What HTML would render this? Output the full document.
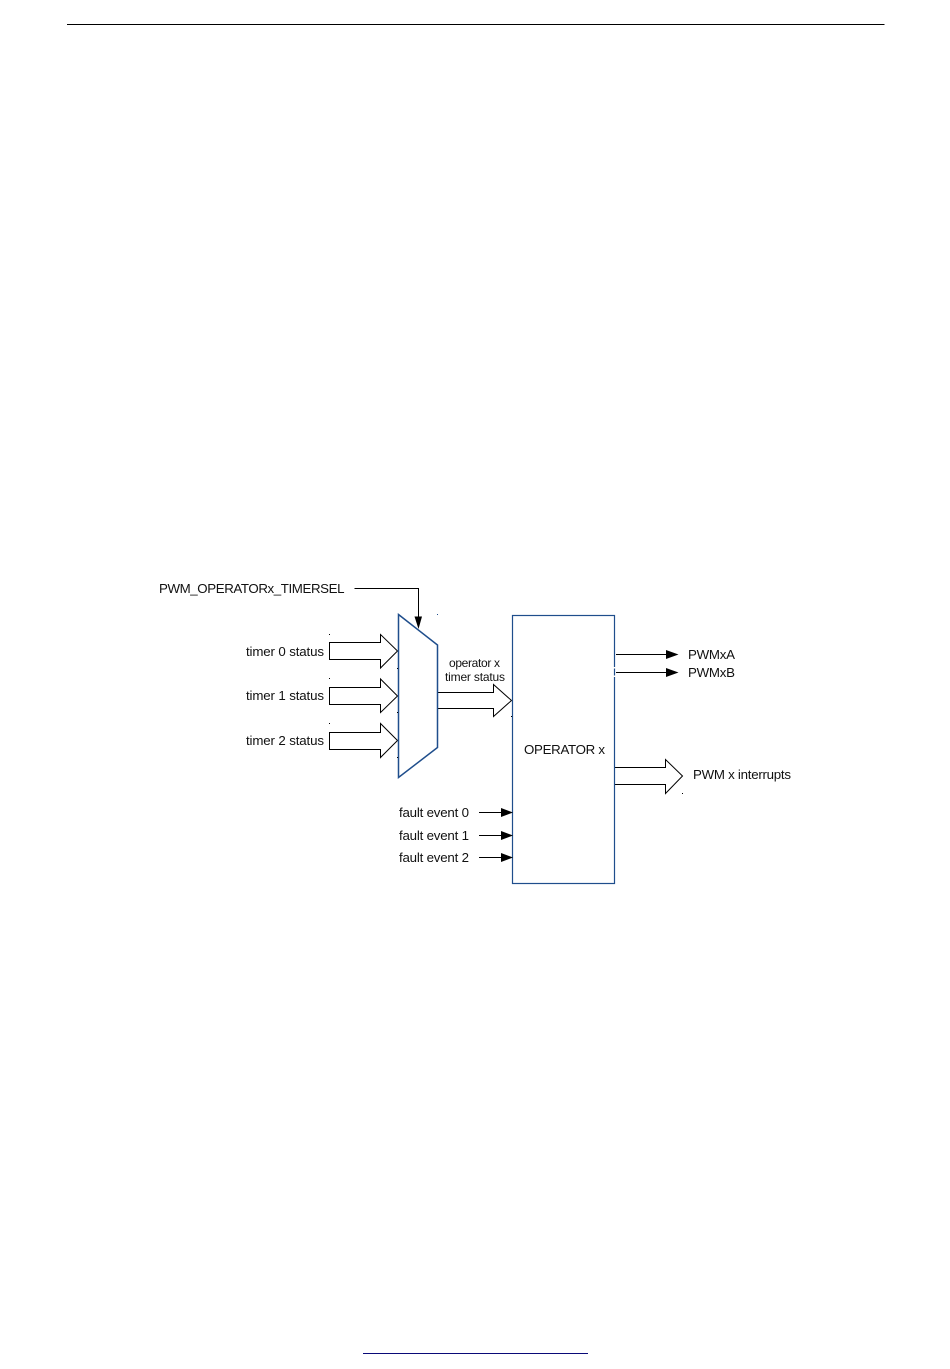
<!DOCTYPE html>
<html>
<head>
<meta charset="utf-8">
<style>
html,body{margin:0;padding:0;background:#fff;}
svg{display:block;}
text{font-family:"Liberation Sans",sans-serif;font-size:13.3px;fill:#111;}
</style>
</head>
<body>
<svg width="950" height="1369" viewBox="0 0 950 1369" xmlns="http://www.w3.org/2000/svg">
<line x1="67" y1="24.5" x2="884.5" y2="24.5" stroke="#000" stroke-width="1"/>
<line x1="363" y1="1353.5" x2="588" y2="1353.5" stroke="#0a0a78" stroke-width="1"/>

<g fill="#fff" stroke="#000" stroke-width="1">
<polygon points="329.5,642.5 380.5,642.5 380.5,634.5 397.5,651 380.5,668 380.5,659.5 329.5,659.5"/>
<polygon points="329.5,687.5 380.5,687.5 380.5,679 397.5,696 380.5,712.5 380.5,704.5 329.5,704.5"/>
<polygon points="329.5,732.5 380.5,732.5 380.5,723.5 397.5,740.5 380.5,757.5 380.5,749.5 329.5,749.5"/>
<polygon points="437.5,692.5 493.5,692.5 493.5,684.5 511.5,700.5 493.5,716.5 493.5,708.5 437.5,708.5"/>
<polygon points="614.5,767.5 665.5,767.5 665.5,759.5 682.5,776 665.5,793.5 665.5,784.5 614.5,784.5"/>
</g>

<polygon points="398.5,614.5 437.5,645 437.5,747.5 398.5,777.5" fill="#fff" stroke="#1f4e8c" stroke-width="1.5"/>
<rect x="512.5" y="615.5" width="102" height="268" fill="#fff" stroke="#1f4e8c" stroke-width="1.2"/>
<rect x="613" y="667" width="3" height="1.5" fill="#fff"/>
<rect x="613" y="675.5" width="3" height="1.5" fill="#fff"/>

<g fill="none" stroke="#000" stroke-width="1">
<polyline points="354.5,588.5 418.5,588.5 418.5,618"/>
<line x1="616" y1="654.5" x2="667" y2="654.5"/>
<line x1="616" y1="672.5" x2="667" y2="672.5"/>
<line x1="479" y1="812.5" x2="502" y2="812.5"/>
<line x1="479" y1="835.5" x2="502" y2="835.5"/>
<line x1="479" y1="857.5" x2="502" y2="857.5"/>
</g>
<g fill="#000">
<polygon points="414.5,616.5 422,616.5 418.5,629"/>
<polygon points="666,650 666,659 678.5,654.5"/>
<polygon points="666,668 666,677 678.5,672.5"/>
<polygon points="501,808 501,817 513,812.5"/>
<polygon points="501,831 501,840 513,835.5"/>
<polygon points="501,853 501,862 513,857.5"/>
<rect x="329" y="634" width="1" height="1"/>
<rect x="329" y="678" width="1" height="1"/>
<rect x="329" y="723" width="1" height="1"/>
<rect x="397" y="668" width="1" height="1"/>
<rect x="397" y="712" width="1" height="1"/>
<rect x="397" y="757" width="1" height="1"/>
<rect x="511" y="716" width="1" height="1"/>
<rect x="682" y="793" width="1" height="1"/>
</g>
<rect x="437" y="614" width="1" height="1" fill="#1f4e8c"/>

<text x="159" y="593" textLength="185.5" lengthAdjust="spacing">PWM_OPERATORx_TIMERSEL</text>
<text x="246" y="656" textLength="78" lengthAdjust="spacing">timer 0 status</text>
<text x="246" y="700" textLength="78" lengthAdjust="spacing">timer 1 status</text>
<text x="246" y="745" textLength="78" lengthAdjust="spacing">timer 2 status</text>
<text x="449" y="667" textLength="51" lengthAdjust="spacing" style="font-size:12px">operator x</text>
<text x="445" y="681" textLength="60" lengthAdjust="spacing" style="font-size:12px">timer status</text>
<text x="524" y="754" textLength="81" lengthAdjust="spacing">OPERATOR x</text>
<text x="688" y="659" textLength="47" lengthAdjust="spacing">PWMxA</text>
<text x="688" y="677" textLength="47" lengthAdjust="spacing">PWMxB</text>
<text x="693" y="779" textLength="98" lengthAdjust="spacing">PWM x interrupts</text>
<text x="399" y="817" textLength="70" lengthAdjust="spacing">fault event 0</text>
<text x="399" y="840" textLength="70" lengthAdjust="spacing">fault event 1</text>
<text x="399" y="862" textLength="70" lengthAdjust="spacing">fault event 2</text>
</svg>
</body>
</html>
